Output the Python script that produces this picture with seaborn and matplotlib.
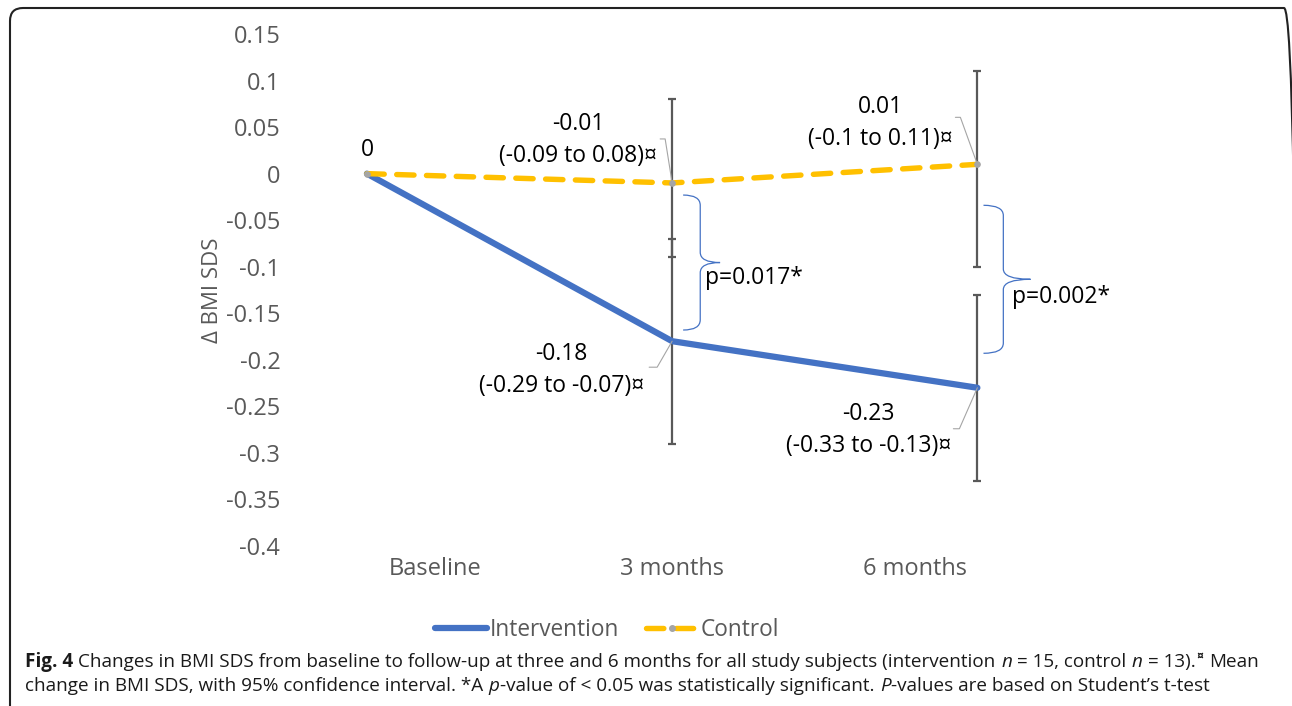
import matplotlib
matplotlib.use("Agg")
import matplotlib.pyplot as plt
from matplotlib.lines import Line2D
from matplotlib.patches import FancyBboxPatch, PathPatch
from matplotlib.path import Path
from matplotlib.transforms import IdentityTransform
import numpy as np
import pandas as pd
import seaborn as sns

# ========================== Data ==================================
timepoints = ["Baseline", "3 months", "6 months"]
intervention_mean = [0.0, -0.18, -0.23]
intervention_lo = [np.nan, -0.29, -0.33]
intervention_hi = [np.nan, -0.07, -0.13]
control_mean = [0.0, -0.01, 0.01]
control_lo = [np.nan, -0.09, -0.10]
control_hi = [np.nan, 0.08, 0.11]
p_values = ["p=0.017*", "p=0.002*"]
y_ticks = [0.15, 0.1, 0.05, 0, -0.05, -0.1, -0.15, -0.2, -0.25, -0.3, -0.35, -0.4]

BLUE = "#4472C4"
GOLD = "#FFC000"
GREY = "#A5A5A5"
DARK = "#595959"

# ========================== Style =================================
sns.set_theme(style="white")
plt.rcParams["font.family"] = ["Open Sans", "DejaVu Sans"]

W, H = 1292, 706
fig = plt.figure(figsize=(W / 100, H / 100), dpi=100)
fig.patch.set_facecolor("white")
ax = fig.add_axes([290 / W, (H - 546) / H, 840 / W, 512 / H])

pos = np.arange(len(timepoints))
df = pd.DataFrame({
    "pos": np.concatenate([pos, pos]),
    "change": intervention_mean + control_mean,
    "group": ["Intervention"] * 3 + ["Control"] * 3,
})

# ========================== Lines & CIs ===========================
for mean, lo, hi in [(intervention_mean, intervention_lo, intervention_hi),
                     (control_mean, control_lo, control_hi)]:
    m = np.array(mean)
    ax.errorbar(pos[1:], m[1:],
                yerr=[m[1:] - np.array(lo)[1:], np.array(hi)[1:] - m[1:]],
                fmt="none", ecolor=DARK, elinewidth=1.6, capsize=3,
                capthick=1.6, zorder=2)

DASH = (0, (3.2, 2.3))
sns.lineplot(data=df[df.group == "Intervention"], x="pos", y="change",
             color=BLUE, linewidth=4.5, solid_capstyle="round", ax=ax,
             legend=False, zorder=3)
sns.lineplot(data=df[df.group == "Control"], x="pos", y="change",
             color=GOLD, linewidth=3.9, linestyle=DASH,
             dash_capstyle="round", marker="o", markersize=4,
             markerfacecolor=GREY, markeredgecolor=GREY, ax=ax,
             legend=False, zorder=4)

# category labels sit off-centre in the original Excel chart
label_shift = [0.223, 0.0, -0.203]
ax.set_xlim(-0.252, 2.5)
ax.set_ylim(-0.4, 0.15)
ax.set_xticks(pos + np.array(label_shift), timepoints)
ax.set_yticks(y_ticks, [f"{v:g}" for v in y_ticks])
ax.tick_params(axis="both", length=0, labelsize=17, labelcolor=DARK)
ax.tick_params(axis="y", pad=7)
ax.tick_params(axis="x", pad=8)
ax.set_xlabel("")
ax.set_ylabel("Δ BMI SDS", fontsize=16, color=DARK)
ax.yaxis.set_label_coords(-0.0917, 0.5)
ax.yaxis.label.set_va("center")
for s in ax.spines.values():
    s.set_visible(False)

# ========================== Data labels ===========================
def label(x, y, text, dxy, leader=None):
    ax.annotate(text, xy=(x, y), xytext=dxy, textcoords="offset pixels",
                ha="center", va="center", fontsize=16.5, color="black",
                linespacing=1.45, zorder=6)
    if leader:
        px, py = ax.transData.transform((x, y))
        xs = [px + a for a, b in leader] + [px]
        ys = [py + b for a, b in leader] + [py]
        fig.add_artist(Line2D(xs, ys, transform=IdentityTransform(),
                              color=GREY, lw=0.8, zorder=5))

def ci_text(m, lo, hi):
    return f"{m:g}\n({lo:g} to {hi:g})¤"

label(0, control_mean[0], "0", (1, 24))
label(1, control_mean[1], ci_text(control_mean[1], control_lo[1], control_hi[1]),
      (-94, 43), [(-12, 44), (-7, 44)])
label(1, intervention_mean[1],
      ci_text(intervention_mean[1], intervention_lo[1], intervention_hi[1]),
      (-111, -29), [(-23, -26), (-15, -26)])
label(2, control_mean[2], ci_text(control_mean[2], control_lo[2], control_hi[2]),
      (-97, 41), [(-22, 47), (-17, 47)])
label(2, intervention_mean[2],
      ci_text(intervention_mean[2], intervention_lo[2], intervention_hi[2]),
      (-109, -42), [(-24, -41), (-18, -41)])

# ========================== Braces ================================
def brace(x, y_top, y_bot, w1, w2, tip, h=0.011):
    x0, x1, xt = x + w1, x + w2, x + tip
    ym = (y_top + y_bot) / 2
    verts = [(x0, y_top), (x1, y_top), (x1, y_top - h),
             (x1, ym + h), (x1, ym), (xt, ym),
             (x1, ym), (x1, ym - h),
             (x1, y_bot + h), (x1, y_bot), (x0, y_bot)]
    codes = [Path.MOVETO, Path.CURVE3, Path.CURVE3,
             Path.LINETO, Path.CURVE3, Path.CURVE3,
             Path.CURVE3, Path.CURVE3,
             Path.LINETO, Path.CURVE3, Path.CURVE3]
    ax.add_patch(PathPatch(Path(verts, codes), fc="none", ec=BLUE, lw=0.9,
                           zorder=5))

brace(1, -0.023, -0.168, 0.036, 0.092, 0.157)
brace(2, -0.034, -0.193, 0.020, 0.085, 0.174)
ax.text(1.108, -0.112, p_values[0], fontsize=16.5, color="black",
        ha="left", va="center")
ax.text(2.115, -0.133, p_values[1], fontsize=16.5, color="black",
        ha="left", va="center")

# ========================== Legend ================================
handles = [
    Line2D([], [], color=BLUE, lw=4.5, solid_capstyle="round"),
    Line2D([], [], color=GOLD, lw=3.9, linestyle=DASH,
           dash_capstyle="round", marker="o", markersize=4,
           markerfacecolor=GREY, markeredgecolor=GREY, markevery=[1]),
]
fig.legend(handles, ["Intervention", "Control"], loc="center",
           bbox_to_anchor=(607 / W, 1 - 630 / H), ncol=2, frameon=False,
           fontsize=16.3, labelcolor=DARK, handlelength=2.3,
           handletextpad=0.1, columnspacing=1.2)

# ========================== Frame & caption =======================
fig.add_artist(FancyBboxPatch((10, -40), 1287, H - 8 + 40,
                              boxstyle="round,pad=0,rounding_size=13",
                              transform=IdentityTransform(), fc="none",
                              ec="#222222", lw=1.5))

CAP = 13.6
renderer = fig.canvas.get_renderer()
probe = fig.text(0, 0, "a a", fontsize=CAP)
probe2 = fig.text(0, 0, "aa", fontsize=CAP)
SPACE = (probe.get_window_extent(renderer).width
         - probe2.get_window_extent(renderer).width)
probe.remove()
probe2.remove()

def write_line(x, y, runs):
    for text, style, gap in runs:
        kw = dict(fontsize=CAP, color="#1A1A1A", va="baseline")
        yy = y
        if style == "bold":
            kw["fontweight"] = "bold"
        elif style == "italic":
            kw["fontstyle"] = "italic"
        elif style == "super":
            kw["fontsize"] = CAP * 0.65
            kw["fontweight"] = "bold"
            yy = y + 7
        t = fig.text(x, yy, text, transform=IdentityTransform(), **kw)
        x = t.get_window_extent(renderer).x1 + gap * SPACE + 0.5

write_line(25, H - 667, [
    ("Fig. 4", "bold", 1),
    ("Changes in BMI SDS from baseline to follow-up at three and 6 months "
     "for all study subjects (intervention", "normal", 1),
    ("n", "italic", 1),
    ("= 15, control", "normal", 1),
    ("n", "italic", 1),
    ("= 13).", "normal", 0),
    ("¤", "super", 1),
    ("Mean", "normal", 0),
])
write_line(25, H - 691, [
    ("change in BMI SDS, with 95% confidence interval. *A", "normal", 1),
    ("p", "italic", 0),
    ("-value of < 0.05 was statistically significant.", "normal", 1),
    ("P", "italic", 0),
    ("-values are based on Student’s t-test", "normal", 0),
])

fig.savefig("out.png", dpi=100)
